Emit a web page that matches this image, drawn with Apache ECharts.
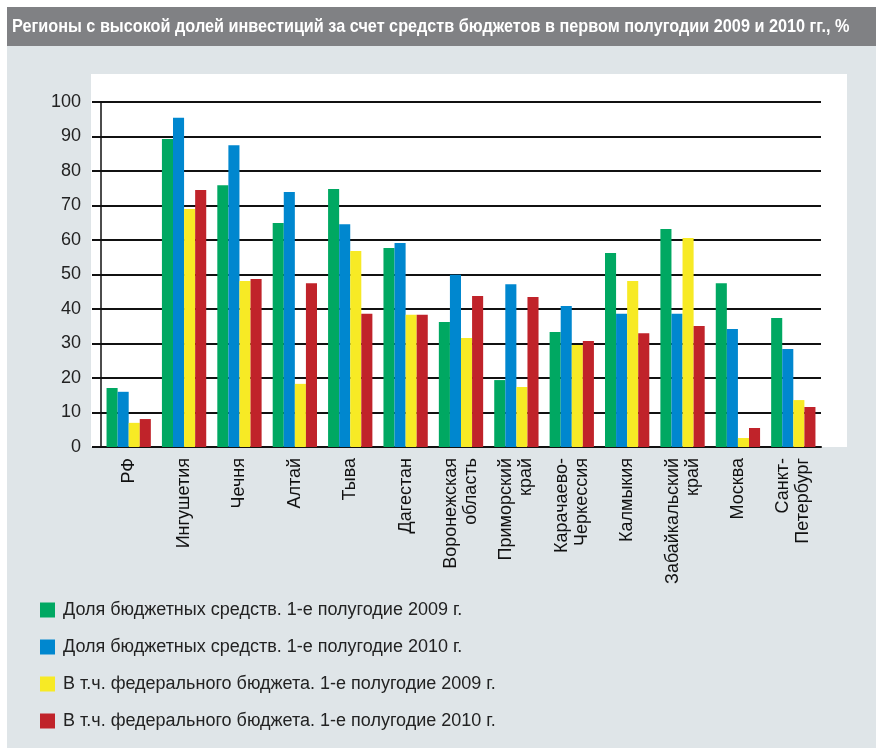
<!DOCTYPE html>
<html>
<head>
<meta charset="utf-8">
<script src="https://cdn.jsdelivr.net/npm/echarts@6/dist/echarts.min.js"></script>
<style>
  html, body { margin: 0; padding: 0; background: #fff; }
  #chart { width: 876px; height: 748px; }
</style>
</head>
<body>
<div id="chart"></div>
<script>
var chartTitle = 'Регионы с высокой долей инвестиций за счет средств бюджетов в первом полугодии 2009 и 2010 гг., %';

var regions = ['РФ', 'Ингушетия', 'Чечня', 'Алтай', 'Тыва', 'Дагестан', 'Воронежская\nобласть',
  'Приморский\nкрай', 'Карачаево-\nЧеркессия', 'Калмыкия', 'Забайкальский\nкрай', 'Москва', 'Санкт-\nПетербург'];

var seriesNames = [
  'Доля бюджетных средств. 1-е полугодие 2009 г.',
  'Доля бюджетных средств. 1-е полугодие 2010 г.',
  'В т.ч. федерального бюджета. 1-е полугодие 2009 г.',
  'В т.ч. федерального бюджета. 1-е полугодие 2010 г.'
];

var budget2009  = [17.1, 89.3, 75.9, 64.9, 74.8, 57.7, 36.2, 19.4, 33.3, 56.2, 63.2, 47.5, 37.4];
var budget2010  = [16.0, 95.4, 87.5, 73.9, 64.6, 59.1, 49.9, 47.2, 40.9, 38.6, 38.6, 34.2, 28.4];
var federal2009 = [7.0, 69.0, 48.1, 18.3, 56.8, 38.3, 31.6, 17.4, 29.6, 48.1, 60.6, 2.6, 13.6];
var federal2010 = [8.1, 74.5, 48.7, 47.5, 38.6, 38.3, 43.8, 43.5, 30.7, 33.0, 35.1, 5.5, 11.6];

var colors = ['#00a862', '#0087cf', '#f7ea25', '#c0232a'];
var values = [budget2009, budget2010, federal2009, federal2010];

var myChart = echarts.init(document.getElementById('chart'));

var series = seriesNames.map(function (name, i) {
  return {
    name: name,
    type: 'bar',
    data: values[i],
    barGap: 0,
    barCategoryGap: '20%',
    itemStyle: { color: colors[i] },
    z: 3
  };
});

// title is squeezed horizontally, like the condensed face in the original
var titleText = {
  type: 'text',
  z: 5,
  x: 12,
  y: 27,
  scaleX: 0.855,
  style: {
    text: chartTitle,
    fill: '#ffffff',
    font: 'bold 19px "Liberation Sans", Arial, sans-serif',
    verticalAlign: 'middle'
  }
};

option = {
  backgroundColor: '#ffffff',
  color: colors,
  animation: false,
  graphic: [
    { type: 'rect', z: -10, shape: { x: 7, y: 46, width: 869, height: 702 }, style: { fill: '#dfe5e8' } },
    { type: 'rect', z: -10, shape: { x: 7, y: 7, width: 869, height: 39 }, style: { fill: '#808184' } },
    { type: 'rect', z: -9, shape: { x: 91, y: 74, width: 756, height: 373 }, style: { fill: '#ffffff' } },
    titleText
  ],
  legend: {
    orient: 'vertical',
    left: 40,
    top: 601,
    padding: 0,
    itemWidth: 15,
    itemHeight: 15,
    itemGap: 19,
    icon: 'rect',
    selectedMode: false,
    data: seriesNames,
    textStyle: {
      fontSize: 18,
      color: '#222',
      padding: [0, 0, 0, 3],
      fontFamily: '"Liberation Sans", Arial, sans-serif'
    }
  },
  grid: {
    left: 101,
    right: 55,
    top: 102,
    bottom: 301
  },
  xAxis: {
    type: 'category',
    data: regions,
    axisLine: { lineStyle: { color: '#111', width: 2 } },
    axisTick: { show: false },
    axisLabel: {
      rotate: 90,
      margin: 11,
      interval: 0,
      fontSize: 18,
      lineHeight: 20,
      color: '#111',
      fontFamily: '"Liberation Sans", Arial, sans-serif'
    }
  },
  yAxis: {
    type: 'value',
    min: 0,
    max: 100,
    interval: 10,
    axisLine: { show: true, lineStyle: { color: '#111', width: 1.5 } },
    axisTick: { show: true, length: 9, lineStyle: { color: '#111', width: 2 } },
    splitLine: { lineStyle: { color: '#111', width: 2 } },
    axisLabel: {
      margin: 20,
      fontSize: 18,
      color: '#222',
      fontFamily: '"Liberation Sans", Arial, sans-serif'
    }
  },
  series: series
};

myChart.setOption(option);
</script>
</body>
</html>
